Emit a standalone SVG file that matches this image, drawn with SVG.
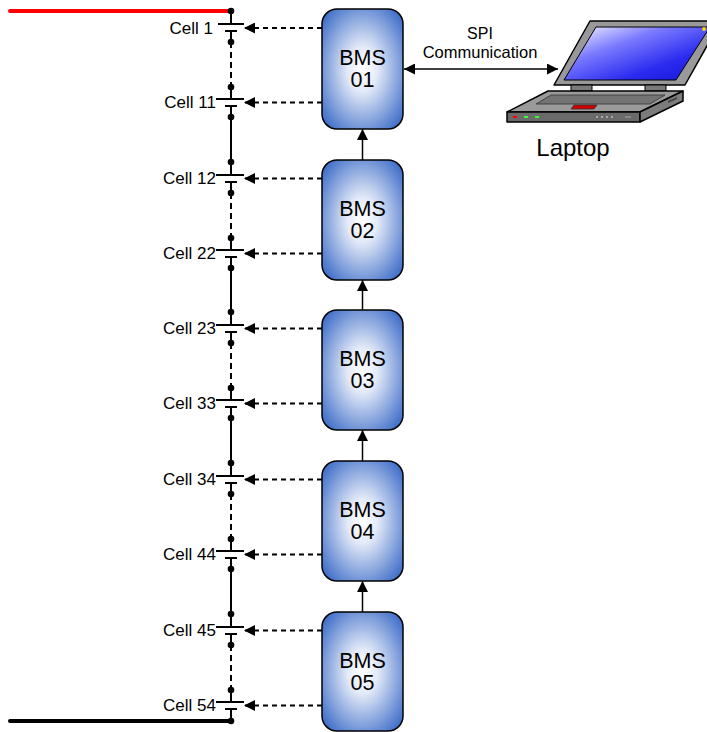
<svg xmlns="http://www.w3.org/2000/svg" width="707" height="732" viewBox="0 0 707 732">
  <defs>
    <radialGradient id="bmsFill" cx="0.5" cy="0.5" r="0.62">
      <stop offset="0" stop-color="#ffffff"/>
      <stop offset="0.3" stop-color="#e3eaf8"/>
      <stop offset="1" stop-color="#4673ca"/>
    </radialGradient>
    <linearGradient id="screenFill" x1="0" y1="0" x2="1" y2="1">
      <stop offset="0" stop-color="#ffffff"/>
      <stop offset="0.35" stop-color="#7a7aff"/>
      <stop offset="0.7" stop-color="#2a2af0"/>
      <stop offset="1" stop-color="#1515d8"/>
    </linearGradient>
    <marker id="tip" viewBox="0 0 11 11" refX="11" refY="5.5" markerUnits="userSpaceOnUse" markerWidth="11" markerHeight="11" orient="auto-start-reverse">
      <path d="M0,0 L11,5.5 L0,11 Z" fill="#000"/>
    </marker>
    <circle id="node" r="3.3" fill="#000"/>
  </defs>
  <style>
    .box { fill: url(#bmsFill); stroke: #000; stroke-width: 1.5; }
    .bms { font-family: "Liberation Sans", Arial, sans-serif; font-size: 21.5px; text-anchor: middle; fill: #000; }
    .cell { font-family: "Liberation Sans", Arial, sans-serif; font-size: 17px; text-anchor: end; fill: #000; }
    .lbl { font-family: "Liberation Sans", Arial, sans-serif; text-anchor: middle; fill: #000; }
    .wire { stroke: #000; stroke-width: 2; fill: none; }
    .wire-dash { stroke: #000; stroke-width: 2; fill: none; stroke-dasharray: 6 4; }
    .plate { stroke: #000; stroke-width: 2; }
    .sense { stroke: #000; stroke-width: 1.8; fill: none; stroke-dasharray: 5 4; marker-end: url(#tip); }
    .link { stroke: #000; stroke-width: 1.5; fill: none; marker-end: url(#tip); }
    .edge { stroke: #000; stroke-width: 1.5; stroke-linejoin: round; }
  </style>

  <!-- pack terminals -->
  <line x1="10" y1="11" x2="231" y2="11" stroke="#ff0000" stroke-width="4" stroke-linecap="round"/>
  <line x1="10" y1="721" x2="231" y2="721" stroke="#000" stroke-width="4" stroke-linecap="round"/>

  <!-- cell string -->
  <g id="cell-string">
    <!-- group 1 : T=9 -->
    <line class="wire" x1="231" y1="11" x2="231" y2="24"/>
    <line class="wire" x1="231" y1="31" x2="231" y2="42"/>
    <line class="wire-dash" x1="231" y1="42" x2="231" y2="87"/>
    <line class="wire" x1="231" y1="87" x2="231" y2="99"/>
    <line class="wire" x1="231" y1="106" x2="231" y2="162"/>
    <!-- group 2 : T=160 -->
    <line class="wire" x1="231" y1="162" x2="231" y2="175"/>
    <line class="wire" x1="231" y1="182" x2="231" y2="193"/>
    <line class="wire-dash" x1="231" y1="193" x2="231" y2="238"/>
    <line class="wire" x1="231" y1="238" x2="231" y2="250"/>
    <line class="wire" x1="231" y1="257" x2="231" y2="312"/>
    <!-- group 3 : T=310 -->
    <line class="wire" x1="231" y1="312" x2="231" y2="325"/>
    <line class="wire" x1="231" y1="332" x2="231" y2="343"/>
    <line class="wire-dash" x1="231" y1="343" x2="231" y2="388"/>
    <line class="wire" x1="231" y1="388" x2="231" y2="400"/>
    <line class="wire" x1="231" y1="407" x2="231" y2="463"/>
    <!-- group 4 : T=461 -->
    <line class="wire" x1="231" y1="463" x2="231" y2="476"/>
    <line class="wire" x1="231" y1="483" x2="231" y2="494"/>
    <line class="wire-dash" x1="231" y1="494" x2="231" y2="539"/>
    <line class="wire" x1="231" y1="539" x2="231" y2="551"/>
    <line class="wire" x1="231" y1="558" x2="231" y2="614"/>
    <!-- group 5 : T=612 -->
    <line class="wire" x1="231" y1="614" x2="231" y2="627"/>
    <line class="wire" x1="231" y1="634" x2="231" y2="645"/>
    <line class="wire-dash" x1="231" y1="645" x2="231" y2="690"/>
    <line class="wire" x1="231" y1="690" x2="231" y2="702"/>
    <line class="wire" x1="231" y1="709" x2="231" y2="721"/>

    <!-- junction dots -->
    <use href="#node" x="231" y="11"/>
    <use href="#node" x="231" y="42"/><use href="#node" x="231" y="87"/><use href="#node" x="231" y="117"/>
    <use href="#node" x="231" y="162"/><use href="#node" x="231" y="193"/><use href="#node" x="231" y="238"/><use href="#node" x="231" y="268"/>
    <use href="#node" x="231" y="312"/><use href="#node" x="231" y="343"/><use href="#node" x="231" y="388"/><use href="#node" x="231" y="418"/>
    <use href="#node" x="231" y="463"/><use href="#node" x="231" y="494"/><use href="#node" x="231" y="539"/><use href="#node" x="231" y="569"/>
    <use href="#node" x="231" y="614"/><use href="#node" x="231" y="645"/><use href="#node" x="231" y="690"/><use href="#node" x="231" y="721"/>
  </g>

  <!-- cells: long plate, short plate, label -->
  <g id="cell-1"><line class="plate" x1="218" y1="24" x2="244" y2="24"/><line class="plate" x1="225" y1="31" x2="237" y2="31"/><text class="cell" x="213" y="34">Cell 1</text></g>
  <g id="cell-11"><line class="plate" x1="216" y1="99" x2="244" y2="99"/><line class="plate" x1="225" y1="106" x2="237" y2="106"/><text class="cell" x="216" y="108">Cell 11</text></g>
  <g id="cell-12"><line class="plate" x1="216" y1="175" x2="244" y2="175"/><line class="plate" x1="225" y1="182" x2="237" y2="182"/><text class="cell" x="216" y="184">Cell 12</text></g>
  <g id="cell-22"><line class="plate" x1="216" y1="250" x2="244" y2="250"/><line class="plate" x1="225" y1="257" x2="237" y2="257"/><text class="cell" x="216" y="259">Cell 22</text></g>
  <g id="cell-23"><line class="plate" x1="216" y1="325" x2="244" y2="325"/><line class="plate" x1="225" y1="332" x2="237" y2="332"/><text class="cell" x="216" y="334">Cell 23</text></g>
  <g id="cell-33"><line class="plate" x1="216" y1="400" x2="244" y2="400"/><line class="plate" x1="225" y1="407" x2="237" y2="407"/><text class="cell" x="216" y="409">Cell 33</text></g>
  <g id="cell-34"><line class="plate" x1="216" y1="476" x2="244" y2="476"/><line class="plate" x1="225" y1="483" x2="237" y2="483"/><text class="cell" x="216" y="485">Cell 34</text></g>
  <g id="cell-44"><line class="plate" x1="216" y1="551" x2="244" y2="551"/><line class="plate" x1="225" y1="558" x2="237" y2="558"/><text class="cell" x="216" y="560">Cell 44</text></g>
  <g id="cell-45"><line class="plate" x1="216" y1="627" x2="244" y2="627"/><line class="plate" x1="225" y1="634" x2="237" y2="634"/><text class="cell" x="216" y="636">Cell 45</text></g>
  <g id="cell-54"><line class="plate" x1="216" y1="702" x2="244" y2="702"/><line class="plate" x1="225" y1="709" x2="237" y2="709"/><text class="cell" x="216" y="711">Cell 54</text></g>

  <!-- BMS boards -->
  <g id="bms-01"><rect class="box" x="322" y="9" width="81" height="120" rx="15"/><text class="bms" x="362.5" y="65">BMS</text><text class="bms" x="362.5" y="87">01</text></g>
  <g id="bms-02"><rect class="box" x="322" y="160" width="81" height="120" rx="15"/><text class="bms" x="362.5" y="216">BMS</text><text class="bms" x="362.5" y="238">02</text></g>
  <g id="bms-03"><rect class="box" x="322" y="310" width="81" height="120" rx="15"/><text class="bms" x="362.5" y="366">BMS</text><text class="bms" x="362.5" y="388">03</text></g>
  <g id="bms-04"><rect class="box" x="322" y="461" width="81" height="120" rx="15"/><text class="bms" x="362.5" y="517">BMS</text><text class="bms" x="362.5" y="539">04</text></g>
  <g id="bms-05"><rect class="box" x="322" y="612" width="81" height="119" rx="15"/><text class="bms" x="362.5" y="668">BMS</text><text class="bms" x="362.5" y="690">05</text></g>

  <!-- connectors -->
  <g id="connectors">
    <!-- cell voltage sense lines -->
    <line class="sense" x1="322" y1="28" x2="244" y2="28"/>
    <line class="sense" x1="322" y1="102.5" x2="244" y2="102.5"/>
    <line class="sense" x1="322" y1="178.5" x2="244" y2="178.5"/>
    <line class="sense" x1="322" y1="253.5" x2="244" y2="253.5"/>
    <line class="sense" x1="322" y1="328.5" x2="244" y2="328.5"/>
    <line class="sense" x1="322" y1="403.5" x2="244" y2="403.5"/>
    <line class="sense" x1="322" y1="479.5" x2="244" y2="479.5"/>
    <line class="sense" x1="322" y1="554.5" x2="244" y2="554.5"/>
    <line class="sense" x1="322" y1="630.5" x2="244" y2="630.5"/>
    <line class="sense" x1="322" y1="705.5" x2="244" y2="705.5"/>
    <!-- daisy chain -->
    <line class="link" x1="362.5" y1="160" x2="362.5" y2="129"/>
    <line class="link" x1="362.5" y1="310" x2="362.5" y2="280"/>
    <line class="link" x1="362.5" y1="461" x2="362.5" y2="430"/>
    <line class="link" x1="362.5" y1="612" x2="362.5" y2="581"/>
    <!-- SPI link -->
    <line class="link" x1="404" y1="69" x2="558" y2="69" marker-start="url(#tip)"/>
    <text class="lbl" x="480" y="39" font-size="16">SPI</text>
    <text class="lbl" x="480" y="58" font-size="16.5">Communication</text>
  </g>

  <!-- laptop -->
  <g id="laptop">
    <polygon class="edge" points="590,21 721,21 685,85 554,85" fill="#999999"/>
    <polygon points="596,27 710,27 676,80 564,80" fill="url(#screenFill)" stroke="#000" stroke-width="1"/>
    <circle cx="704" cy="29" r="2" fill="#ffcc00"/>
    <rect x="571" y="85" width="21" height="6" fill="#7a7a7a" stroke="#000" stroke-width="1"/>
    <rect x="645" y="85" width="21" height="6" fill="#7a7a7a" stroke="#000" stroke-width="1"/>
    <polygon class="edge" points="548,91 683,91 640,112 507,112" fill="#9a9a9a"/>
    <polygon class="edge" points="507,112 640,112 640,122 507,122" fill="#6a6a6a"/>
    <polygon class="edge" points="640,112 683,91 683,101 640,122" fill="#7c7c7c"/>
    <polygon points="551,95 665,95 650,104 536,104" fill="#737373" stroke="#333" stroke-width="0.8"/>
    <polygon points="574,105 597,105 594,109 571,109" fill="#d00000" stroke="#333" stroke-width="0.8"/>
    <rect x="513" y="116" width="4" height="2" fill="#ff0000"/>
    <rect x="524" y="116" width="4" height="2" fill="#33ff33"/>
    <rect x="535" y="116" width="4" height="2" fill="#33ff33"/>
    <circle cx="597" cy="117" r="0.9" fill="#c8c8c8"/>
    <circle cx="602" cy="117" r="0.9" fill="#c8c8c8"/>
    <circle cx="607" cy="117" r="0.9" fill="#c8c8c8"/>
    <circle cx="612" cy="117" r="0.9" fill="#c8c8c8"/>
    <line x1="625" y1="117" x2="631" y2="117" stroke="#aaaaaa" stroke-width="1"/>
    <polygon points="668,101 677,97 677,99 668,103" fill="#444"/>
    <text class="lbl" x="573" y="156" font-size="24">Laptop</text>
  </g>
</svg>
